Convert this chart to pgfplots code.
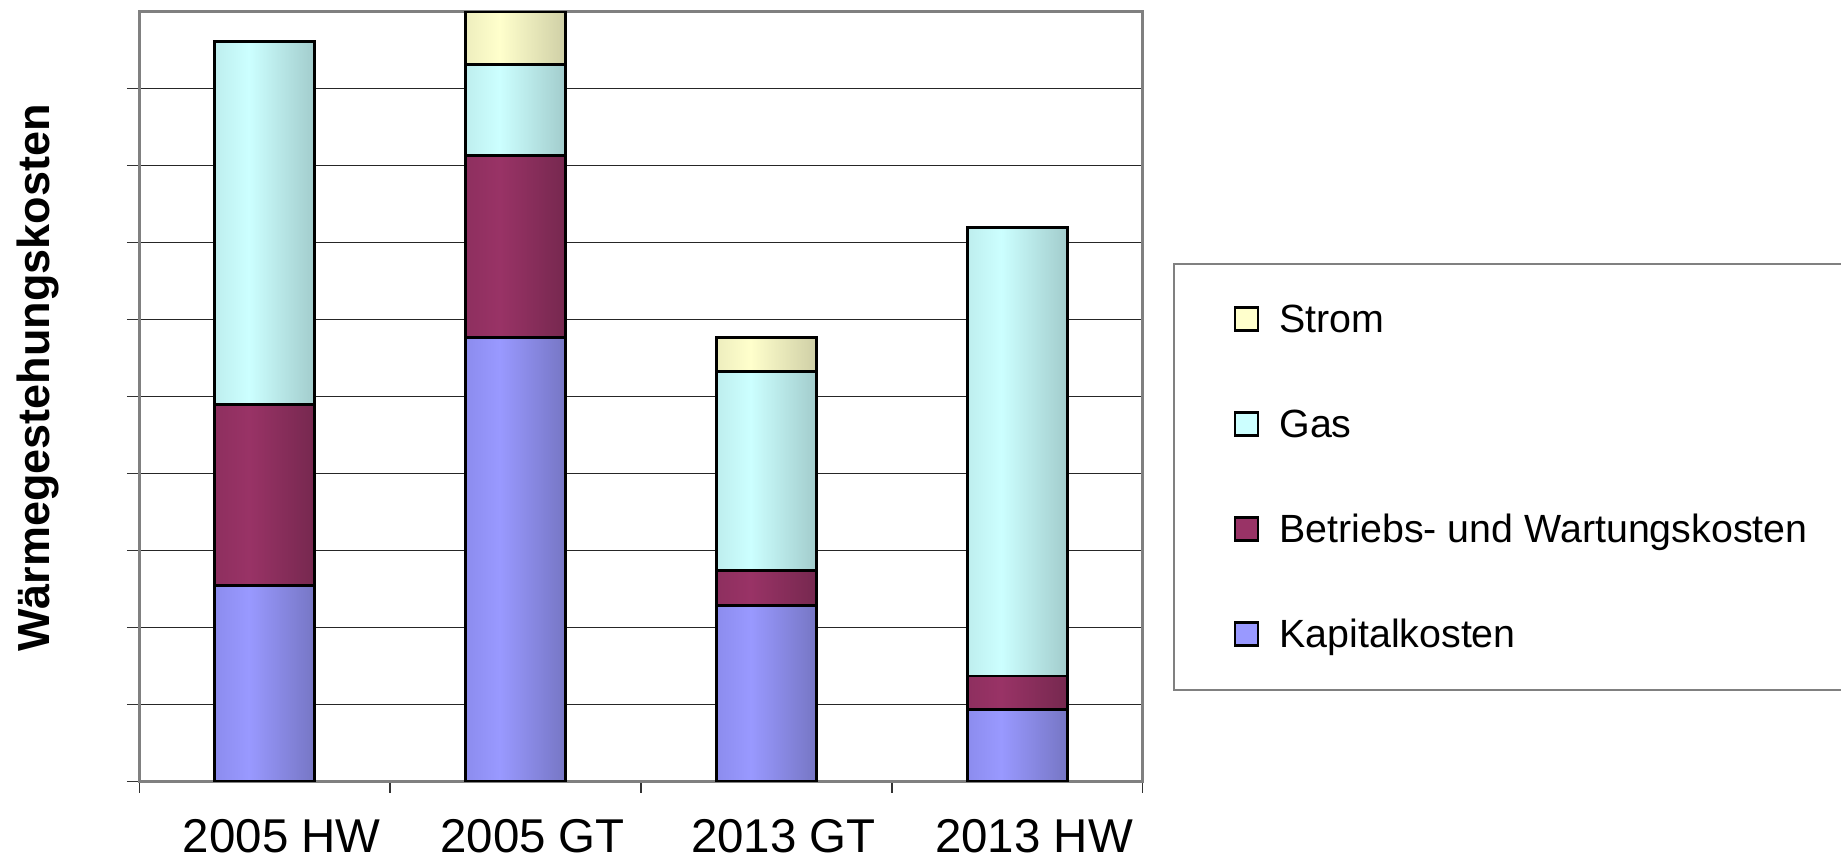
\documentclass[border=0pt]{standalone}
\usepackage{fontspec}
\setmainfont{Liberation Sans}
\usepackage{pgfplots}
\pgfplotsset{compat=1.18}

\definecolor{kapL}{HTML}{9999FF}
\definecolor{kapE}{HTML}{8C8CEE}
\definecolor{kapD}{HTML}{7676C4}
\definecolor{betL}{HTML}{993366}
\definecolor{betE}{HTML}{8E2F5F}
\definecolor{betD}{HTML}{76284F}
\definecolor{gasL}{HTML}{CCFFFF}
\definecolor{gasE}{HTML}{BEEEEE}
\definecolor{gasD}{HTML}{A2CCCC}
\definecolor{strL}{HTML}{FFFFCC}
\definecolor{strE}{HTML}{EEEEBE}
\definecolor{strD}{HTML}{CFCFA6}
\definecolor{frame}{HTML}{808080}

% bar gradients: path spans 25bp..75bp
\pgfdeclarehorizontalshading{kapshade}{100bp}{color(0bp)=(kapE); color(25bp)=(kapE); color(42bp)=(kapL); color(75bp)=(kapD); color(100bp)=(kapD)}
\pgfdeclarehorizontalshading{betshade}{100bp}{color(0bp)=(betE); color(25bp)=(betE); color(42bp)=(betL); color(75bp)=(betD); color(100bp)=(betD)}
\pgfdeclarehorizontalshading{gasshade}{100bp}{color(0bp)=(gasE); color(25bp)=(gasE); color(42bp)=(gasL); color(75bp)=(gasD); color(100bp)=(gasD)}
\pgfdeclarehorizontalshading{strshade}{100bp}{color(0bp)=(strE); color(25bp)=(strE); color(42bp)=(strL); color(75bp)=(strD); color(100bp)=(strD)}

\pgfplotsset{
  sq legend/.style={legend image code/.code={
    \draw[##1, draw=black, line width=0.8pt] (0cm,0.02cm) rectangle (0.23cm,0.25cm);}},
  bar/.style={forget plot, draw=black, line width=0.85pt, bar shift=0pt},
}

\begin{document}
\begin{tikzpicture}
\useasboundingbox (-1.395,-0.765) rectangle (17.015,7.815);
\begin{axis}[
  at={(0,0)}, anchor=south west,
  scale only axis, width=10.03cm, height=7.70cm,
  ybar, bar width=1.0cm,
  xmin=-0.5, xmax=3.5, ymin=0, ymax=10,
  xtick={0,1,2,3},
  xticklabels={2005 HW,2005 GT,2013 GT,2013 HW},
  minor xtick={-0.5,0.5,1.5,2.5,3.5},
  ytick={0,...,9}, yticklabels={},
  xtick pos=bottom, ytick pos=left,
  tick align=outside,
  major tick length=0.126cm, minor tick length=0.115cm,
  major x tick style={draw=none},
  tick style={black!80, line width=0.45pt},
  minor tick style={black!80, line width=0.45pt},
  ymajorgrids, grid style={black!85, line width=0.45pt},
  axis line style={frame, line width=0.8pt},
  xticklabel style={font=\fontsize{13.5}{16}\selectfont, anchor=base,
    yshift=-0.589cm, xshift=0.17cm},
  ylabel={Wärmegestehungskosten},
  ylabel style={font=\bfseries\fontsize{12.8}{15}\selectfont,
    at={(axis description cs:-0.1012,0.524)}, anchor=center},
  legend style={at={(axis description cs:1.0902,0.6231)}, anchor=north west,
    draw=none, fill=none, inner sep=0pt, row sep=0.65cm, column sep=0.2cm,
    font=\fontsize{11.2}{13.5}\selectfont,
    nodes={inner sep=0pt, text height=0.3cm, text depth=0.1cm},
    cells={anchor=base west}},
]
% cumulative heights, drawn from the top segment down so each bar gets its own gradient
% 2005 HW: Kapital 2.55, Betrieb 2.35, Gas 4.71
\addplot[bar, shading=gasshade] coordinates {(0,9.61)};
\addplot[bar, shading=betshade] coordinates {(0,4.90)};
\addplot[bar, shading=kapshade] coordinates {(0,2.55)};
% 2005 GT: Kapital 5.77, Betrieb 2.36, Gas 1.18, Strom 0.69
\addplot[bar, shading=strshade] coordinates {(1,10.0)};
\addplot[bar, shading=gasshade] coordinates {(1,9.31)};
\addplot[bar, shading=betshade] coordinates {(1,8.13)};
\addplot[bar, shading=kapshade] coordinates {(1,5.77)};
% 2013 GT: Kapital 2.28, Betrieb 0.46, Gas 2.59, Strom 0.44
\addplot[bar, shading=strshade] coordinates {(2,5.77)};
\addplot[bar, shading=gasshade] coordinates {(2,5.33)};
\addplot[bar, shading=betshade] coordinates {(2,2.74)};
\addplot[bar, shading=kapshade] coordinates {(2,2.28)};
% 2013 HW: Kapital 0.94, Betrieb 0.43, Gas 5.82
\addplot[bar, shading=gasshade] coordinates {(3,7.19)};
\addplot[bar, shading=betshade] coordinates {(3,1.37)};
\addplot[bar, shading=kapshade] coordinates {(3,0.94)};

\addlegendimage{sq legend, fill=strL}
\addlegendentry{Strom}
\addlegendimage{sq legend, fill=gasL}
\addlegendentry{Gas}
\addlegendimage{sq legend, fill=betL}
\addlegendentry{Betriebs- und Wartungskosten}
\addlegendimage{sq legend, fill=kapL}
\addlegendentry{Kapitalkosten}
\end{axis}
\draw[frame, line width=0.8pt] (10.345,0.915) rectangle (17.3,5.175);
\end{tikzpicture}
\end{document}
